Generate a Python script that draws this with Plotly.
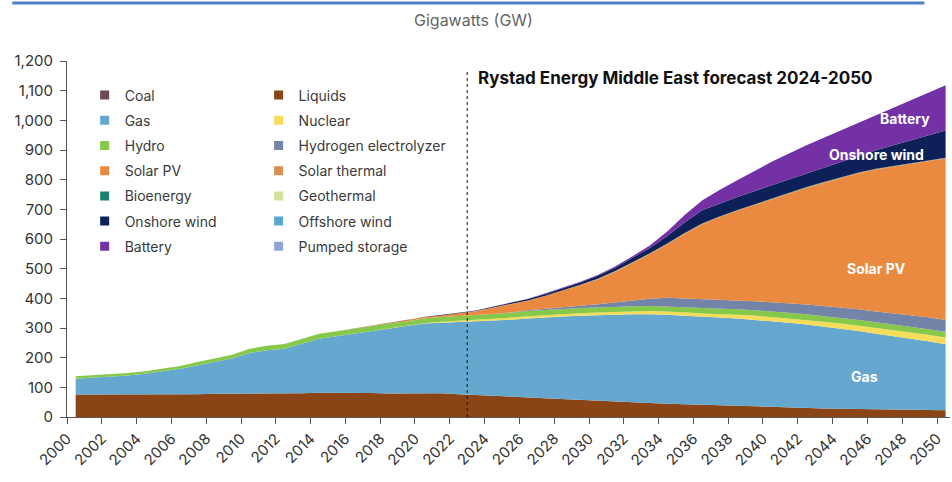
import plotly.graph_objects as go

years = list(range(2000, 2051))

coal = [0]*20 + [1] + [2]*14 + [1]*6 + [0]*10
liquids = [76, 76, 75, 76, 75, 75, 76, 77, 78, 78, 79, 79, 79, 80, 82, 82, 82, 81, 79, 79,
           80, 78, 75, 73, 70, 67, 64, 61, 58, 55, 53, 51, 48, 45, 43, 42, 40, 38, 36, 34,
           32, 32, 30, 29, 28, 27, 27, 26, 25, 24, 23]
gas = [53, 56, 60, 64, 71, 79, 87, 97, 107, 120, 137, 146, 151, 166, 182, 190, 199, 209, 219, 227,
       234, 238, 243, 247, 253, 259, 266, 273, 279, 284, 288, 292, 296, 299, 300, 298, 296, 296, 295, 293,
       290, 286, 282, 276, 270, 263, 254, 247, 239, 231, 222]
nuclear = [0]*20 + [1, 3, 4, 6, 6, 7, 8, 8, 9, 9, 9, 10, 10, 11, 11, 12, 12, 13, 13, 14,
                    14, 15, 15, 16, 17, 18, 19, 20, 21, 22, 23]
hydro = [8, 8, 8, 8, 8, 8, 9, 11, 12, 12, 14, 15, 16, 17, 17, 17, 17, 17, 17, 16,
         16, 16, 16, 16, 16, 16, 17, 17, 17, 17, 17, 17, 17, 17, 17, 17, 18, 18, 18, 18,
         19, 19, 19, 19, 19, 19, 19, 19, 19, 19, 19]
hydrogen = [0]*25 + [1, 3, 4, 6, 8, 11, 15, 20, 25, 29, 30, 30, 30, 30, 30,
                     31, 32, 33, 34, 35, 36, 37, 38, 39, 40, 40]
solar_pv = [0]*17 + [1, 2, 3, 4, 5, 9, 12, 21, 27, 32, 43, 55, 70, 83, 102, 126, 150, 180, 217,
                     252, 277, 301, 324, 346, 369, 393, 415, 437, 458, 478, 493, 508, 525, 544]
solar_thermal = [0]*22 + [1]*8 + [2]*21
bioenergy = [0]*30 + [1]*21
geothermal = [0]*51
onshore_wind = [0]*17 + [1, 1, 1, 1, 1, 1, 2, 3, 4, 5, 6, 7, 7, 10, 11, 15, 18, 25, 36,
                         45, 44, 44, 44, 45, 44, 45, 48, 51, 56, 62, 70, 79, 86, 92]
offshore_wind = [0]*51
battery = [0]*24 + [1, 1, 1, 2, 2, 3, 3, 4, 5, 8, 15, 25, 33, 45, 56, 68,
                    79, 88, 96, 101, 106, 112, 118, 126, 134, 142, 152]
pumped_storage = [0]*51

series = [
    ("Coal", coal, "#6e4a55"),
    ("Liquids", liquids, "#8a4416"),
    ("Gas", gas, "#66a7cf"),
    ("Nuclear", nuclear, "#f5dc5a"),
    ("Hydro", hydro, "#86c94a"),
    ("Hydrogen electrolyzer", hydrogen, "#7484a8"),
    ("Solar PV", solar_pv, "#e98a40"),
    ("Solar thermal", solar_thermal, "#d98e52"),
    ("Bioenergy", bioenergy, "#1e7f6e"),
    ("Geothermal", geothermal, "#cfe49a"),
    ("Onshore wind", onshore_wind, "#0d2158"),
    ("Offshore wind", offshore_wind, "#5aa7cc"),
    ("Battery", battery, "#7431a6"),
    ("Pumped storage", pumped_storage, "#8fa4d6"),
]

tick_years = list(range(2000, 2051, 2))
forecast_line = "2023-01-01"
labels = [("Battery", "2048-03-01", 1007), ("Onshore wind", "2046-07-01", 885),
          ("Solar PV", "2046-07-01", 501), ("Gas", "2045-11-01", 137)]

xd = [f"{y}-07-01" for y in years]

fig = go.Figure()
for name, vals, col in series:
    fig.add_trace(go.Scatter(x=xd, y=vals, name=name, stackgroup="one", mode="lines",
                             line=dict(width=0, color=col), fillcolor=col,
                             showlegend=False, hoverinfo="x+y+name"))

for i, (name, vals, col) in enumerate(series):
    fig.add_trace(go.Scatter(x=[None], y=[None], mode="markers", name=name,
                             marker=dict(symbol="square", size=9, color=col),
                             legend="legend" if i % 2 == 0 else "legend2",
                             legendgroup=name, showlegend=True))

font = "Inter, 'Open Sans', sans-serif"
leg_common = dict(font=dict(family=font, size=14, color="#3a3a3a"), bgcolor="rgba(0,0,0,0)",
                  tracegroupgap=4, yanchor="top", xanchor="left", traceorder="grouped",
                  itemwidth=30)

fig.update_layout(
    width=952, height=482,
    margin=dict(l=67, r=2, t=61, b=65),
    paper_bgcolor="white", plot_bgcolor="white",
    font=dict(family=font, color="#333"),
    legend=dict(x=0.02, y=0.948, **leg_common),
    legend2=dict(x=0.217, y=0.948, **leg_common),
    xaxis=dict(type="date", range=["2000-01-01", "2050-10-01"],
               tickvals=[f"{y}-01-01" for y in tick_years], ticktext=[str(y) for y in tick_years],
               tickangle=-45, ticks="outside", ticklen=6, tickcolor="#555",
               showline=True, linecolor="#555", linewidth=1, showgrid=False, zeroline=False,
               tickfont=dict(size=15, color="#333")),
    yaxis=dict(range=[0, 1200], tickvals=list(range(0, 1201, 100)), tickformat=",",
               ticks="outside", ticklen=6, tickcolor="#555", showline=True, linecolor="#555",
               linewidth=1, showgrid=False, zeroline=False, tickfont=dict(size=15, color="#333"),
               ticklabelstandoff=4),
    showlegend=True,
)

fig.add_shape(type="line", xref="x", yref="y", x0=forecast_line, x1=forecast_line, y0=0, y1=1170,
              line=dict(color="#111", width=1, dash="dot"))
fig.add_shape(type="line", xref="paper", yref="paper", x0=-0.062, x1=0.971, y0=1.163, y1=1.163,
              line=dict(color="#4f7fc0", width=3))

fig.add_annotation(x=0.46, y=1.115, xref="paper", yref="paper", text="Gigawatts (GW)",
                   showarrow=False, font=dict(size=16, color="#666", family=font),
                   xanchor="center", yanchor="middle")
fig.add_annotation(x="2023-07-01", y=1143, xref="x", yref="y",
                   text="<b>Rystad Energy Middle East forecast 2024-2050</b>",
                   showarrow=False, xanchor="left", font=dict(size=17, color="#111", family=font))
for txt, lx, ly in labels:
    fig.add_annotation(x=lx, y=ly, xref="x", yref="y", text=f"<b>{txt}</b>", showarrow=False,
                       font=dict(size=14, color="white", family=font))

fig.write_html("out.html", config={"displayModeBar": False},
               post_script="document.body.style.margin='0';")
